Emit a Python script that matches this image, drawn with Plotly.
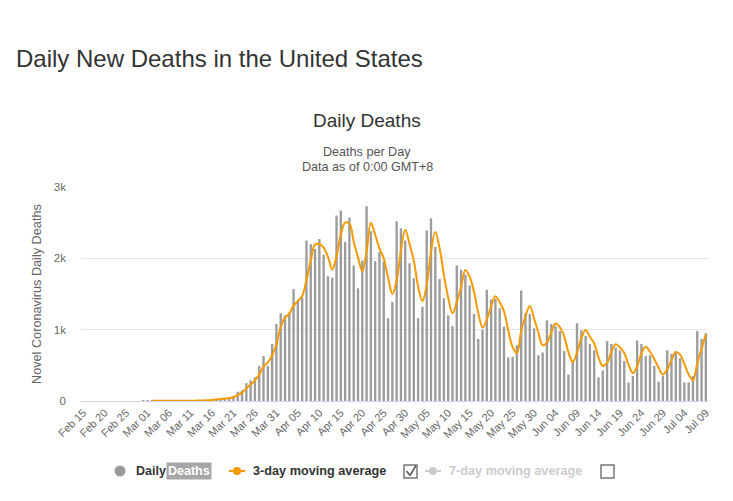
import pandas as pd
import plotly.graph_objects as go

# ---------------- data ----------------
START_DATE = "2020-02-15"

daily_deaths = [
    0, 0, 0, 0, 0, 0, 0, 0, 0, 0, 0, 0, 0, 0,            # Feb 15 - Feb 28
    1, 1, 5, 1, 4, 1, 2, 3, 4, 4, 3, 7, 4, 11, 8, 13,     # Feb 29 - Mar 15
    23, 27, 34, 40, 50, 70, 130, 150, 250, 290, 330,      # Mar 16 - Mar 26
    490, 630, 490, 800, 1080,                             # Mar 27 - Mar 31
    1230, 1200, 1240, 1570, 1400, 1450, 2250, 2200, 2130, 2270,   # Apr 01 - Apr 10
    2050, 1750, 1730, 2600, 2670, 2230, 2570, 1900, 1580, 1970,   # Apr 11 - Apr 20
    2730, 2380, 1960, 2090, 1950, 1160, 1390, 2520, 2420, 2250,   # Apr 21 - Apr 30
    1930, 1720, 1160, 1320, 2390, 2560, 2160, 1710, 1440, 1200,   # May 01 - May 10
    1050, 1900, 1840, 1770, 1620, 1220, 870, 1000, 1560, 1420,    # May 11 - May 20
    1430, 1300, 1040, 610, 620, 780, 1550, 1230, 1220, 1020,      # May 21 - May 30
    640, 680, 1130, 1080, 1050, 980, 700, 370, 570, 1090,         # May 31 - Jun 09
    990, 910, 800, 710, 330, 430, 840, 800, 750, 710,             # Jun 10 - Jun 19
    560, 260, 350, 850, 800, 630, 640, 490, 270, 350,             # Jun 20 - Jun 29
    710, 660, 690, 600, 260, 260, 350, 980, 870, 950,             # Jun 30 - Jul 09
]

# 3-day moving average, starting Mar 02
ma3_start_index = 16
moving_avg_3day = [
    2.3, 2.3, 3.3, 2, 2.3, 2, 3, 3.7, 3.7, 4.7, 4.7, 7.3, 7.7, 10.7,
    14.7, 21, 28, 34, 41, 53, 83, 117, 177, 230, 290,
    370, 483, 537, 640, 790,
    1037, 1170, 1223, 1337, 1403, 1473, 1700, 1967, 2193, 2200,
    2150, 2023, 1843, 2027, 2333, 2500, 2490, 2233, 2017, 1817,
    2093, 2500, 2330, 2140, 2000, 1730, 1500, 1690, 2110, 2400,
    2200, 1967, 1603, 1400, 1623, 2090, 2370, 2143, 1770, 1450,
    1230, 1383, 1597, 1837, 1743, 1537, 1237, 1030, 1143, 1327,
    1470, 1383, 1257, 983, 757, 670, 983, 1187, 1333, 1157,
    960, 780, 817, 963, 1087, 1037, 910, 683, 547, 677,
    883, 997, 900, 807, 613, 490, 533, 690, 797, 753,
    673, 510, 390, 487, 667, 760, 690, 587, 467, 370,
    443, 573, 687, 650, 517, 373, 290, 530, 733, 933,
]

x_tick_labels = [
    "Feb 15", "Feb 20", "Feb 25", "Mar 01", "Mar 06", "Mar 11", "Mar 16",
    "Mar 21", "Mar 26", "Mar 31", "Apr 05", "Apr 10", "Apr 15", "Apr 20",
    "Apr 25", "Apr 30", "May 05", "May 10", "May 15", "May 20", "May 25",
    "May 30", "Jun 04", "Jun 09", "Jun 14", "Jun 19", "Jun 24", "Jun 29",
    "Jul 04", "Jul 09",
]
y_tick_values = [0, 1000, 2000, 3000]
y_tick_labels = ["0", "1k", "2k", "3k"]

categories = [d.strftime("%b %d") for d in
              pd.date_range(START_DATE, periods=len(daily_deaths), freq="D")]
ma_categories = categories[ma3_start_index:ma3_start_index + len(moving_avg_3day)]

# ---------------- figure ----------------
W, H = 733, 501
L, R, T, B = 81, 708, 187, 401   # plot area in pixels

def px(x):
    return (x - L) / (R - L)

def py(y):
    return (B - y) / (B - T)

FONT = "Liberation Sans, Arial, Helvetica, sans-serif"

fig = go.Figure()
fig.add_trace(go.Bar(
    x=categories, y=daily_deaths, name="Daily Deaths",
    marker=dict(color="#9c9c9c", line=dict(width=0)),
    hoverinfo="x+y",
))
fig.add_trace(go.Scatter(
    x=ma_categories, y=moving_avg_3day, name="3-day moving average",
    mode="lines", line=dict(color="#f59a00", width=2, shape="spline", smoothing=1.0),
))

fig.update_layout(
    width=W, height=H,
    margin=dict(l=L, r=W - R, t=T, b=H - B, pad=0),
    paper_bgcolor="white", plot_bgcolor="white",
    showlegend=False, bargap=0.45,
    font=dict(family=FONT, color="#666666", size=11),
)
fig.update_xaxes(
    type="category", range=[-0.5, len(categories) - 0.5],
    tickmode="array", tickvals=x_tick_labels, ticktext=x_tick_labels,
    tickangle=-45, tickfont=dict(size=11, color="#666666", family=FONT),
    showgrid=False, showline=True, linecolor="#ccd6eb", linewidth=1,
    ticks="", zeroline=False, fixedrange=True,
)
fig.update_yaxes(
    range=[0, 3000], tickmode="array", tickvals=y_tick_values, ticktext=y_tick_labels,
    tickfont=dict(size=11.5, color="#666666", family=FONT),
    showgrid=True, gridcolor="#e6e6e6", gridwidth=1, zeroline=False,
    showline=False, ticks="", ticklabelstandoff=14, fixedrange=True,
)

ann = []
def text(x, y, s, size, color="#333333", xanchor="left", yanchor="middle",
         bold=False, angle=0, bg=None):
    if bold:
        s = "<b>" + s + "</b>"
    d = dict(x=px(x), y=py(y), xref="paper", yref="paper", text=s, showarrow=False,
             xanchor=xanchor, yanchor=yanchor, textangle=angle,
             font=dict(family=FONT, size=size, color=color))
    if bg:
        d.update(bgcolor=bg, borderpad=1)
    ann.append(d)

text(14, 58, "Daily New Deaths in the United States", 24, "#333333")
text(367, 120, "Daily Deaths", 19, "#333333", xanchor="center")
text(367, 152, "Deaths per Day", 12.6, "#555555", xanchor="center")
text(367, 167, "Data as of 0:00 GMT+8", 12.6, "#555555", xanchor="center")
text(37, 294, "Novel Coronavirus Daily Deaths", 12.7, "#666666", xanchor="center", angle=-90)

# legend row
LY = 471
text(134, LY, "Daily", 12.5, "#333333", bold=True)
text(166, LY, "Deaths", 12.5, "#ffffff", bold=True, bg="#a6a6a6")
text(251, LY, "3-day moving average", 12.7, "#333333", bold=True)
text(447, LY, "7-day moving average", 12.7, "#cccccc", bold=True)

shapes = []
def circ(cx, cy, r, color):
    shapes.append(dict(type="circle", xref="paper", yref="paper",
                       x0=px(cx - r), x1=px(cx + r), y0=py(cy + r), y1=py(cy - r),
                       fillcolor=color, line=dict(width=0)))
def seg(x0, y0, x1, y1, color, w=2):
    shapes.append(dict(type="line", xref="paper", yref="paper",
                       x0=px(x0), x1=px(x1), y0=py(y0), y1=py(y1),
                       line=dict(color=color, width=w)))
def box(x0, y0, x1, y1, color):
    shapes.append(dict(type="rect", xref="paper", yref="paper",
                       x0=px(x0), x1=px(x1), y0=py(y1), y1=py(y0),
                       line=dict(color=color, width=1.5), fillcolor="white"))

circ(120, LY, 5.5, "#999999")
seg(229, LY, 245, LY, "#f59a00", 2)
circ(237, LY, 4, "#f59a00")
box(404, 465, 417, 478, "#777777")
seg(406.5, 471, 410, 475.5, "#555555", 1.5)
seg(410, 475.5, 416, 465.5, "#555555", 1.5)
seg(425, LY, 441, LY, "#cccccc", 2)
circ(433, LY, 4, "#cccccc")
box(601, 465, 614, 478, "#777777")

fig.update_layout(annotations=ann, shapes=shapes)
fig.write_html("out.html", config={"displayModeBar": False},
               post_script="document.body.style.margin='0';document.body.style.overflow='hidden';")
